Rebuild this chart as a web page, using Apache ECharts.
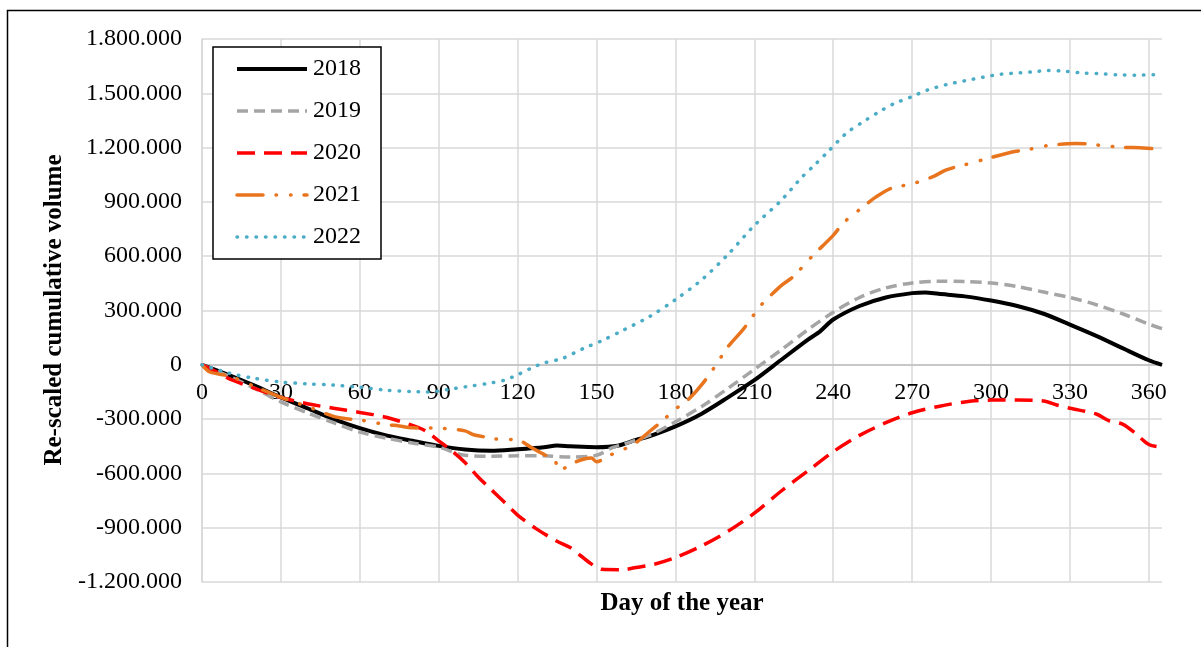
<!DOCTYPE html>
<html>
<head>
<meta charset="utf-8">
<script src="https://cdn.jsdelivr.net/npm/echarts@6/dist/echarts.min.js"></script>
<style>
html,body{margin:0;padding:0;background:#fff;}
#c{width:1201px;height:647px;}
</style>
</head>
<body>
<div id="c"></div>
<script>
// ---- data (values in m3) ----
const seriesNames = ['2018', '2019', '2020', '2021', '2022'];
const yTickValues = [-1200000, -900000, -600000, -300000, 0, 300000, 600000, 900000, 1200000, 1500000, 1800000];
const xTickValues = [0, 30, 60, 90, 120, 150, 180, 210, 240, 270, 300, 330, 360];

const days2018 = [0,10,20,30,40,50,60,70,80,90,100,110,120,130,135,140,150,158,165,170,180,190,200,210,220,230,235,240,250,260,270,275,280,290,300,310,320,330,340,350,360,365];
const vals2018 = [0,-55,-115,-180,-240,-300,-350,-390,-420,-448,-468,-475,-466,-455,-446,-450,-455,-447,-415,-395,-340,-270,-180,-85,25,135,185,250,325,372,396,400,392,378,355,325,282,222,160,92,25,0];

const days2019 = [0,10,20,30,40,50,60,70,80,90,100,110,120,130,140,150,156,160,170,180,190,200,210,220,230,240,250,260,270,280,290,300,310,320,330,340,350,360,365];
const vals2019 = [0,-62,-130,-205,-265,-320,-372,-405,-432,-455,-500,-505,-503,-503,-510,-500,-458,-440,-390,-315,-230,-130,-25,80,190,290,372,425,452,462,460,452,432,402,372,332,282,225,200];

const days2020 = [0,5,10,20,30,40,50,60,70,80,85,90,95,100,105,110,115,120,127,135,140,144,148,152,160,165,172,180,190,200,210,220,230,240,250,260,270,280,290,300,310,320,325,330,340,345,350,355,360,365];
const vals2020 = [0,-35,-75,-130,-180,-215,-240,-263,-290,-335,-365,-420,-475,-540,-620,-690,-760,-830,-905,-975,-1010,-1055,-1100,-1130,-1132,-1120,-1102,-1065,-1000,-920,-820,-700,-590,-480,-390,-320,-265,-230,-205,-195,-195,-200,-222,-240,-272,-310,-328,-380,-440,-455];

const days2021 = [0,3,8,12,20,30,40,50,55,60,65,70,75,80,90,100,103,108,112,120,125,130,134,136,140,145,148,150,155,160,165,170,175,180,185,190,195,200,206,212,216,220,225,232,240,244,252,256,262,270,278,283,290,300,309,315,321,332,337,343,350,358,365];
const vals2021 = [0,-40,-55,-70,-120,-180,-230,-285,-298,-305,-318,-330,-338,-348,-350,-365,-385,-400,-410,-415,-455,-495,-525,-585,-550,-522,-515,-535,-500,-470,-430,-370,-310,-245,-190,-110,-10,100,200,320,380,435,490,600,715,786,880,925,975,1000,1040,1077,1105,1145,1178,1192,1210,1223,1220,1210,1202,1198,1190];

const days2022 = [0,10,20,30,40,50,60,70,80,85,90,95,100,110,115,120,125,130,137,145,152,160,170,180,190,200,210,220,228,233,238,245,251,257,263,270,276,283,290,297,304,311,317,321,328,334,341,348,355,362,365];
const vals2022 = [0,-45,-75,-95,-105,-112,-124,-140,-148,-150,-145,-133,-122,-100,-85,-55,-20,10,35,90,133,190,265,360,470,610,770,905,1035,1105,1177,1280,1339,1394,1442,1482,1519,1548,1569,1589,1606,1613,1620,1626,1622,1613,1609,1602,1600,1603,1603];

// ---- build ----
function pairs(d, v) { return d.map((x, i) => [x, v[i] * 1000]); }
function fmt(v) {
  const s = Math.abs(v).toString().replace(/\B(?=(\d{3})+(?!\d))/g, '.');
  return (v < 0 ? '-' : '') + s;
}
const FONT = '"Liberation Serif", "Times New Roman", serif';

const styles = [
  { color: '#000000', width: 4, type: 'solid', cap: 'butt' },
  { color: '#a5a5a5', width: 3.5, type: [11, 6], cap: 'butt' },
  { color: '#ff0000', width: 3.5, type: [18, 9], cap: 'butt' },
  { color: '#e8741e', width: 3.5, type: [26, 13, 0.5, 14, 0.5, 13], cap: 'round' },
  { color: '#4bacc6', width: 3.5, type: [0.5, 9], cap: 'round' }
];
const dataSets = [pairs(days2018, vals2018), pairs(days2019, vals2019), pairs(days2020, vals2020), pairs(days2021, vals2021), pairs(days2022, vals2022)];

const chart = echarts.init(document.getElementById('c'), null, { renderer: 'canvas' });
chart.setOption({
  animation: false,
  backgroundColor: '#ffffff',
  textStyle: { fontFamily: FONT },
  grid: { left: 202, right: 39, top: 39, bottom: 65, containLabel: false },
  xAxis: {
    type: 'value', min: 0, max: 365, interval: 30,
    axisLine: { show: true, onZero: false, lineStyle: { color: '#bfbfbf', width: 1.5 } },
    axisTick: { show: false },
    axisLabel: { fontSize: 24, color: '#000', fontFamily: FONT, margin: 16, showMaxLabel: false,
      formatter: v => (xTickValues.indexOf(v) >= 0 ? String(v) : '') },
    splitLine: { show: true, showMaxLine: false, lineStyle: { color: '#d9d9d9', width: 1.5 } }
  },
  yAxis: {
    type: 'value', min: yTickValues[0], max: yTickValues[yTickValues.length - 1], interval: 300000,
    axisLine: { show: true, onZero: false, lineStyle: { color: '#d9d9d9', width: 1.5 } },
    axisTick: { show: false },
    axisLabel: { fontSize: 24, color: '#000', fontFamily: FONT, margin: 20, formatter: v => fmt(v) },
    splitLine: { show: true, lineStyle: { color: '#d9d9d9', width: 1.5 } }
  },
  legend: {
    orient: 'vertical', left: 213, top: 47,
    data: seriesNames.map((n, i) => ({ name: n, lineStyle: { width: styles[i].width } })),
    backgroundColor: '#ffffff',
    borderColor: '#000000', borderWidth: 1.5,
    padding: [10, 20, 10, 22],
    itemWidth: 70, itemHeight: 14, itemGap: 18,
    itemStyle: { color: 'rgba(0,0,0,0)', borderColor: 'rgba(0,0,0,0)', borderWidth: 0, opacity: 0 },
    textStyle: { fontSize: 24, color: '#000', fontFamily: FONT, padding: [0, 0, 0, 1] }
  },
  graphic: [
    { type: 'rect', left: 5, top: 8, shape: { width: 1260, height: 700 }, silent: true,
      style: { fill: 'none', stroke: '#000', lineWidth: 1.5 }, z: 100 },
    { type: 'text', x: 55, y: 310, rotation: Math.PI / 2,
      style: { text: 'Re-scaled cumulative volume', fontFamily: FONT, fontWeight: 'bold', fontSize: 25,
        fill: '#000', align: 'center', verticalAlign: 'middle' } },
    { type: 'text', x: 682, y: 604,
      style: { text: 'Day of the year', fontFamily: FONT, fontWeight: 'bold', fontSize: 25,
        fill: '#000', align: 'center', verticalAlign: 'middle' } }
  ],
  series: seriesNames.map((n, i) => ({
    name: n, type: 'line', data: dataSets[i], showSymbol: false, symbol: 'none',
    smooth: 0.3, z: 2 + i,
    itemStyle: { color: styles[i].color },
    lineStyle: { color: styles[i].color, width: styles[i].width, type: styles[i].type, cap: styles[i].cap, join: 'round' }
  }))
});

// Move the x axis (line + labels) up to where y = 0, as in the reference.
const zeroPx = chart.convertToPixel({ yAxisIndex: 0 }, 0);
const bottomPx = chart.convertToPixel({ yAxisIndex: 0 }, yTickValues[0]);
chart.setOption({ xAxis: { offset: zeroPx - bottomPx } });
</script>
</body>
</html>
